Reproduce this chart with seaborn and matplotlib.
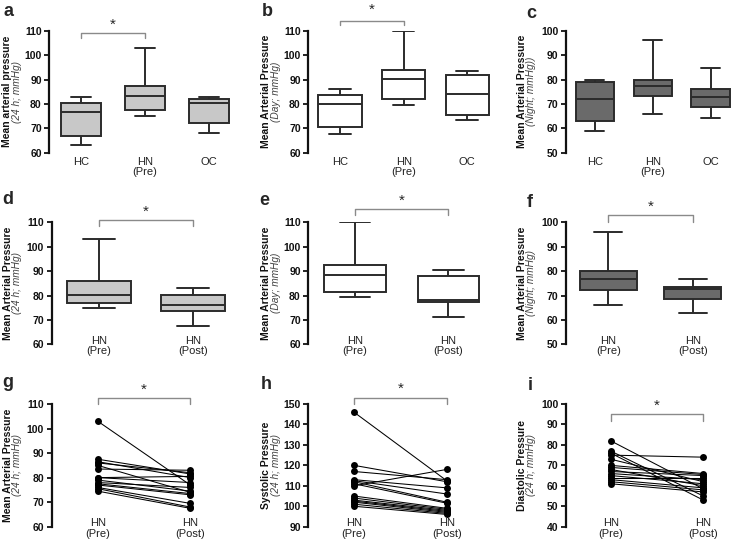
import numpy as np
import pandas as pd
import seaborn as sns
import matplotlib.pyplot as plt

sns.set_style('ticks')
plt.rcParams['font.family'] = ['Liberation Sans', 'DejaVu Sans']

W, H = 739, 546

# categories
grp3 = ['HC', 'HN\n(Pre)', 'OC']
grp2 = ['HN\n(Pre)', 'HN\n(Post)']

# box panels: five-number summaries (min, Q1, median, Q3, max)
a_hc = [63, 67, 76.5, 80.5, 83]
a_hn = [75, 77.5, 83.3, 87.3, 103]
a_oc = [68, 72, 80.5, 82, 83]

b_hc = [67.8, 70.5, 80.1, 83.5, 86.2]
b_hn = [79.7, 81.9, 90.2, 93.7, 110]
b_oc = [73.4, 75.6, 84.2, 91.8, 93.3]

c_hc = [59, 63, 72.1, 78.8, 80]
c_hn = [66, 73.2, 77.2, 80, 96.2]
c_oc = [64.3, 68.6, 72.7, 76, 84.8]

d_pre = [75, 77.1, 80.2, 86.1, 103]
d_post = [67.5, 73.5, 76, 80.1, 83]

e_pre = [79.5, 81.4, 88.6, 92.7, 110]
e_post = [71, 77.2, 78.3, 87.8, 90.3]

f_pre = [66, 72.3, 76.6, 80.2, 96.2]
f_post = [62.7, 68.7, 72.8, 73.6, 76.9]

# paired panels: individual patients, pre and post
g_pre = [103, 87.5, 86.5, 86, 85, 83.5, 80, 80, 79, 78, 77.5, 77, 76, 75.5, 74.5]
g_post = [77, 81.5, 80, 82, 74, 83, 78, 80.5, 74.5, 76, 73.5, 73, 69.5, 68, 67.5]

h_pre = [146, 120, 117, 113, 112.5, 112, 111, 110, 105, 104, 103, 102.5, 102, 101, 100]
h_post = [112.5, 112, 113, 109, 106, 102, 101.5, 118, 99, 98.5, 98, 97.5, 97, 96.5, 96]

i_pre = [82, 77, 76, 75, 73, 70, 69, 68, 67, 66, 65, 64, 63, 62, 61]
i_post = [58.5, 55, 53, 74, 62, 66, 65.5, 60, 65, 63, 61, 64, 59, 58, 57]

LIGHT = '#c8c8c8'
WHITE = '#ffffff'
DARK = '#6a6a6a'
LINE = '#2b2b2b'

fig = plt.figure(figsize=(W / 100, H / 100), dpi=100)


def make_ax(spine, cat0, step, right, top, bottom):
    ax = fig.add_axes([spine / W, 1 - bottom / H, (right - spine) / W, (bottom - top) / H])
    ax.set_xlim((spine - cat0) / step, (right - cat0) / step)
    return ax


def style(ax, ylim, yticks, labels, letter, lab1, lab2, spine, top, bottom, lab_dx, xpad=3):
    ax.set_ylim(*ylim)
    ax.set_yticks(yticks)
    ax.set_xticks(range(len(labels)))
    ax.set_xticklabels(labels, fontsize=8, color='#222222', linespacing=1.05)
    for t in ax.get_yticklabels():
        t.set_fontweight('bold')
        t.set_fontsize(7.5)
    ax.tick_params(axis='x', length=0, pad=xpad)
    ax.tick_params(axis='y', length=3.5, width=1.3, pad=2, colors='#111111')
    for s in ['top', 'right', 'bottom']:
        ax.spines[s].set_visible(False)
    ax.spines['left'].set_linewidth(1.6)
    ax.spines['left'].set_color('#111111')
    ax.set_xlabel('')
    ax.set_ylabel('')
    ax.set_facecolor('none')
    yc = 1 - (top + bottom) / 2 / H
    fig.text((spine - lab_dx) / W, yc, lab1, rotation=90, ha='center', va='center',
             fontsize=7.5, fontweight='bold', color='#111111')
    fig.text((spine - lab_dx + 9.5) / W, yc, lab2, rotation=90, ha='center', va='center',
             fontsize=7.3, fontstyle='italic', color='#444444')
    fig.text(letter[1] / W, 1 - letter[2] / H, letter[0], ha='left', va='top',
             fontsize=13, fontweight='bold')


def bracket(ax, x0, x1, y, ydrop, ystar):
    ax.plot([x0, x0, x1, x1], [ydrop, y, y, ydrop], color='#8a8a8a', lw=1, clip_on=False)
    ax.text((x0 + x1) / 2, ystar, '*', ha='center', va='center', fontsize=11, clip_on=False)


def boxes(ax, labels, stats, color, width):
    df = pd.DataFrame({'group': np.repeat(labels, 5), 'value': np.concatenate(stats)})
    sns.boxplot(data=df, x='group', y='value', order=labels, whis=(0, 100), width=width,
                color=color, saturation=1, linecolor=LINE, linewidth=1.4, ax=ax)


def paired(ax, pre, post):
    n = len(pre)
    df = pd.DataFrame({'pt': np.tile(np.arange(n), 2),
                       'time': np.repeat([0, 1], n),
                       'value': np.concatenate([pre, post])})
    sns.lineplot(data=df, x='time', y='value', units='pt', estimator=None, color='black',
                 lw=0.75, marker='o', markersize=5, markeredgewidth=0, ax=ax)


R1 = (30.7, 152.7)
R2 = (222.3, 344.3)
R3 = (404, 526.7)

# row 1
ax = make_ax(49.3, 87, 60.5, 241, *R1)
boxes(ax, grp3, [a_hc, a_hn, a_oc], LIGHT, 0.62)
style(ax, (60, 110), range(60, 111, 10), grp3, ('a', 3, 3), 'Mean arterial pressure',
      '(24 h; mmHg)', 49.3, *R1, 42)
bracket(ax, 0, 1, 109, 107, 112.5)

ax = make_ax(308.3, 340.7, 62, 499, *R1)
boxes(ax, grp3, [b_hc, b_hn, b_oc], WHITE, 0.68)
style(ax, (60, 110), range(60, 111, 10), grp3, ('b', 262, 3), 'Mean Arterial Pressure',
      '(Day; mmHg)', 308.3, *R1, 42)
bracket(ax, 0, 1, 114, 112.5, 118.5)

ax = make_ax(566, 596, 61.5, 739.5, *R1)
boxes(ax, grp3, [c_hc, c_hn, c_oc], DARK, 0.66)
style(ax, (50, 100), range(50, 101, 10), grp3, ('c', 526, 5), 'Mean Arterial Pressure',
      '(Night; mmHg))', 566, *R1, 44)

# row 2
ax = make_ax(51.7, 97.7, 92.5, 240, *R2)
boxes(ax, grp2, [d_pre, d_post], LIGHT, 0.68)
style(ax, (60, 110), range(60, 111, 10), grp2, ('d', 2, 191), 'Mean Arterial Pressure',
      '(24 h; mmHg)', 51.7, *R2, 44, xpad=-6)
bracket(ax, 0, 1, 111, 108.3, 114.5)

ax = make_ax(308.3, 354, 92.7, 495, *R2)
boxes(ax, grp2, [e_pre, e_post], WHITE, 0.66)
style(ax, (60, 110), range(60, 111, 10), grp2, ('e', 259, 192), 'Mean Arterial Pressure',
      '(Day; mmHg)', 308.3, *R2, 42, xpad=-6)
bracket(ax, 0, 1, 115.5, 113, 119)

ax = make_ax(566, 610.7, 92.6, 735, *R2)
boxes(ax, grp2, [f_pre, f_post], DARK, 0.67)
style(ax, (50, 100), range(50, 101, 10), grp2, ('f', 527, 194), 'Mean Arterial Pressure',
      '(Night; mmHg)', 566, *R2, 44, xpad=-6)
bracket(ax, 0, 1, 103, 100.3, 106.5)

# row 3
ax = make_ax(51.7, 97.7, 92.5, 240, *R3)
paired(ax, g_pre, g_post)
style(ax, (60, 110), range(60, 111, 10), grp2, ('g', 2, 374), 'Mean Arterial Pressure',
      '(24 h; mmHg)', 51.7, *R3, 44, xpad=-6)
bracket(ax, 0, 1, 112.3, 110, 115.7)

ax = make_ax(308.3, 354, 92.7, 495, *R3)
paired(ax, h_pre, h_post)
style(ax, (90, 150), range(90, 151, 10), grp2, ('h', 261, 376), 'Systolic Pressure',
      '(24 h; mmHg)', 308.3, *R3, 42, xpad=-6)
bracket(ax, 0, 1, 153, 149.8, 157.4)

ax = make_ax(566, 610.7, 92.6, 735, *R3)
paired(ax, i_pre, i_post)
style(ax, (40, 100), range(40, 101, 10), grp2, ('i', 528, 377), 'Diastolic Pressure',
      '(24 h; mmHg)', 566, *R3, 44, xpad=-6)
bracket(ax, 0, 1, 94.9, 91.6, 99.2)

fig.savefig('out.png', dpi=100)
